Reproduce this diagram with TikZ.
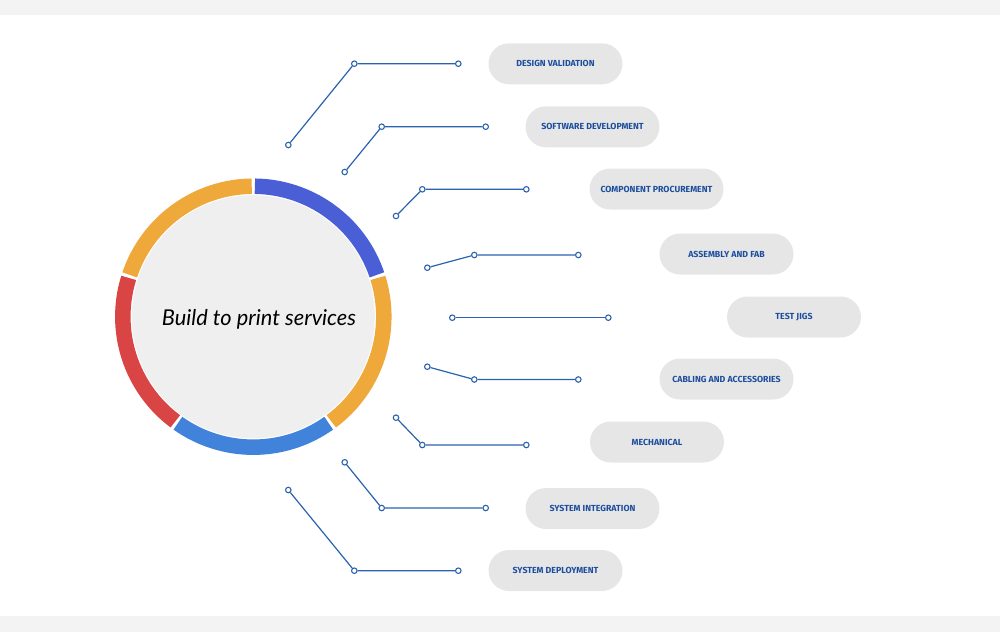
\documentclass[tikz,border=0pt]{standalone}
\usepackage{fontspec}
\setmainfont{Lato}
\setsansfont{Fira Sans}
\usepackage{tikz}

\definecolor{bandgray}{HTML}{F3F3F3}
\definecolor{discgray}{HTML}{EFEFEF}
\definecolor{pillgray}{HTML}{E6E6E6}
\definecolor{linkblue}{HTML}{2A62AE}
\definecolor{textblue}{HTML}{1D4E9E}
\definecolor{ringblue}{HTML}{4A5ED6}
\definecolor{ringsky}{HTML}{4182DB}
\definecolor{ringorange}{HTML}{EFA83A}
\definecolor{ringred}{HTML}{D94545}

\begin{document}
\begin{tikzpicture}[x=1pt,y=1pt,
    dot/.style={circle,draw=linkblue,fill=white,line width=1.1pt,inner sep=0pt,minimum size=5.5pt},
    pill/.style={rectangle,rounded corners=20.5pt,fill=pillgray,minimum width=134pt,minimum height=41pt,
      text=textblue,font=\sffamily\bfseries\fontsize{8.8}{10}\selectfont},
    ring/.style={line width=15.5pt}]

      \useasboundingbox (0,0) rectangle (1000,-632);
      \fill[bandgray] (0,0) rectangle (1000,-15);
      \fill[bandgray] (0,-616) rectangle (1000,-632);

      % hub
      \fill[discgray] (253.3,-316.7) circle (121.5);
      \draw[ring,ringblue] (253.3,-316.7) ++(89.3:130.5) arc (89.3:18.7:130.5);
      \draw[ring,ringorange] (253.3,-316.7) ++(17.3:130.5) arc (17.3:-53.3:130.5);
      \draw[ring,ringsky] (253.3,-316.7) ++(-54.7:130.5) arc (-54.7:-125.3:130.5);
      \draw[ring,ringred] (253.3,-316.7) ++(-126.7:130.5) arc (-126.7:-197.3:130.5);
      \draw[ring,ringorange] (253.3,-316.7) ++(161.3:130.5) arc (161.3:90.7:130.5);
      \node (hub) at (259,-319) {\itshape\fontsize{21.8}{26}\selectfont Build to print services};

      \begin{scope}[every node/.style={pill}]
        \node (p1) at (555.5,-63.8) {DESIGN VALIDATION};
        \node (p2) at (592.5,-126.8) {SOFTWARE DEVELOPMENT};
        \node (p3) at (656.5,-189) {COMPONENT PROCUREMENT};
        \node (p4) at (726.5,-254) {ASSEMBLY AND FAB};
        \node (p5) at (794,-317) {TEST JIGS};
        \node (p6) at (726.5,-379) {CABLING AND ACCESSORIES};
        \node (p7) at (657,-442) {MECHANICAL};
        \node (p8) at (592.5,-508.5) {SYSTEM INTEGRATION};
        \node (p9) at (555.5,-570.5) {SYSTEM DEPLOYMENT};
      \end{scope}

      \begin{scope}[every node/.style={dot}]
        \node (i1) at (288.3,-145) {};
        \node (b1) at (354.3,-63.7) {};
        \node (o1) at (458.3,-63.7) {};
        \node (i2) at (344.7,-172) {};
        \node (b2) at (381.7,-126.7) {};
        \node (o2) at (485.7,-126.7) {};
        \node (i3) at (396,-216) {};
        \node (b3) at (422.3,-189.3) {};
        \node (o3) at (526.3,-189.3) {};
        \node (i4) at (427.3,-267.7) {};
        \node (b4) at (474.3,-255) {};
        \node (o4) at (578.3,-255) {};
        \node (i5) at (452.3,-317.7) {};
        \node (o5) at (608.3,-317.7) {};
        \node (i6) at (427.3,-366.7) {};
        \node (b6) at (474.3,-379.5) {};
        \node (o6) at (578.3,-379.5) {};
        \node (i7) at (396,-417.7) {};
        \node (b7) at (422.3,-445) {};
        \node (o7) at (526.3,-445) {};
        \node (i8) at (344.7,-462.3) {};
        \node (b8) at (381.7,-508) {};
        \node (o8) at (485.7,-508) {};
        \node (i9) at (288.3,-490) {};
        \node (b9) at (354.3,-570.7) {};
        \node (o9) at (458.3,-570.7) {};
      \end{scope}

      \begin{scope}[every path/.style={draw=linkblue,line width=1.2pt}]
        \path (i1) -- (b1) -- (o1);
        \path (i2) -- (b2) -- (o2);
        \path (i3) -- (b3) -- (o3);
        \path (i4) -- (b4) -- (o4);
        \path (i5) -- (o5);
        \path (i6) -- (b6) -- (o6);
        \path (i7) -- (b7) -- (o7);
        \path (i8) -- (b8) -- (o8);
        \path (i9) -- (b9) -- (o9);
      \end{scope}

    \end{tikzpicture}
\end{document}
